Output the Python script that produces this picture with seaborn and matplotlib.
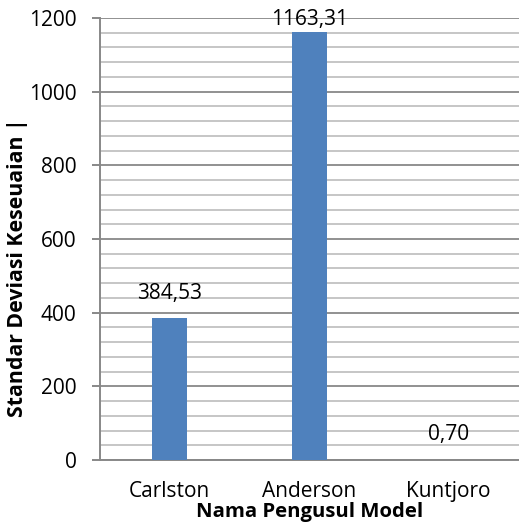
import matplotlib
matplotlib.use("Agg")
import matplotlib.pyplot as plt
import seaborn as sns
import pandas as pd
import numpy as np

# Data
models = ["Carlston", "Anderson", "Kuntjoro"]
values = [384.53, 1163.31, 0.70]
value_labels = ["384,53", "1163,31", "0,70"]
y_ticks = [0, 200, 400, 600, 800, 1000, 1200]

df = pd.DataFrame({"model": models, "value": values})

sns.set_theme(style="white")
plt.rcParams["font.family"] = ["Open Sans", "DejaVu Sans"]
plt.rcParams["text.color"] = "black"

fig = plt.figure(figsize=(5.19, 5.31), dpi=100)
ax = fig.add_axes([100 / 519, 1 - 460 / 531, 418.5 / 519, 442 / 531])

sns.barplot(data=df, x="model", y="value", color="#4F81BD", width=0.25,
            saturation=1, linewidth=0, edgecolor="none", ax=ax, zorder=3)

ymax = 1200
ax.set_xlim(-0.5, 2.5)
ax.set_ylim(0, ymax)
ax.set_yticks(y_ticks)
ax.set_yticklabels([str(t) for t in y_ticks], fontsize=15, color="black")
ax.set_yticks(np.arange(0, 1201, 40), minor=True)

# gridlines: minor lighter, major darker
ax.grid(axis="y", which="minor", color="#C2C2C2", linewidth=1.3, zorder=0)
ax.grid(axis="y", which="major", color="#888888", linewidth=1.3, zorder=1)
ax.set_axisbelow(True)

for s in ["top", "right"]:
    ax.spines[s].set_visible(False)
for s in ["left", "bottom"]:
    ax.spines[s].set_color("#888888")
    ax.spines[s].set_linewidth(1.4)

ax.tick_params(axis="y", which="major", direction="out", length=6, width=1.4,
               color="#888888", pad=11, left=True)
ax.tick_params(axis="y", which="minor", length=0)
ax.tick_params(axis="x", length=0, labelsize=15, labelcolor="black", pad=15)

ax.set_xlabel("Nama Pengusul Model", fontsize=14.7, fontweight="bold",
              color="black", labelpad=0)
ax.set_ylabel("Standar Deviasi Keseuaian |", fontsize=15.3, fontweight="bold",
              color="black")
ax.yaxis.set_label_coords(-0.172, 0.436)

# value labels above bars, kept inside the plot area at the top
px_per_unit = 442 / ymax
for i, (v, lab) in enumerate(zip(values, value_labels)):
    y = min(v + 25 / px_per_unit, ymax - 5)
    ax.text(i, y, lab, ha="center", va="center", fontsize=15, color="black")

fig.savefig("out.png", dpi=100, facecolor="white")
